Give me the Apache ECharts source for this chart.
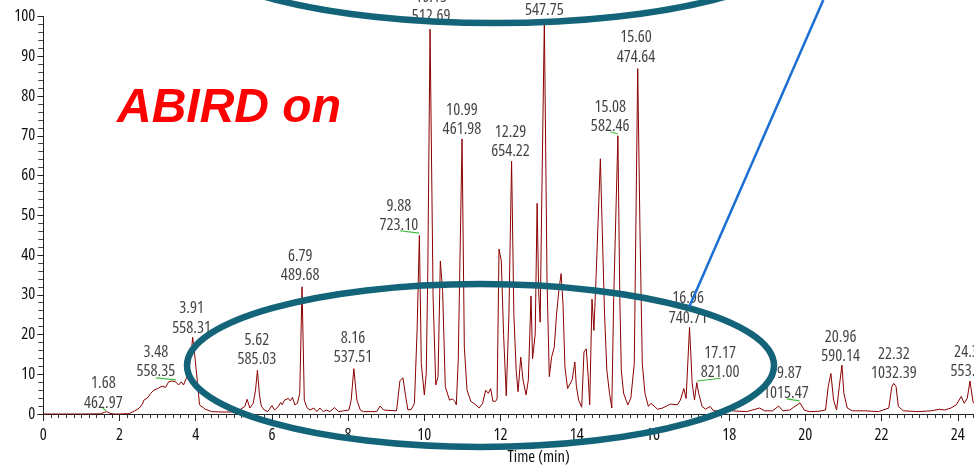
<!DOCTYPE html>
<html>
<head>
<meta charset="utf-8">
<script src="https://cdn.jsdelivr.net/npm/echarts@6/dist/echarts.min.js"></script>
<style>
html,body{margin:0;padding:0;background:#fff;overflow:hidden;width:974px;height:471px;}
#chart{width:1044px;height:471px;}
</style>
</head>
<body>
<div id="chart"></div>
<script>
// ---- Data ----
const rtMin = [0,0.5,1.0,1.5,1.6,1.66,1.75,1.85,2.0,2.26,2.4,2.52,2.6,2.64,2.73,2.82,2.9,3.0,3.04,3.12,3.21,3.29,3.38,3.47,3.55,3.62,3.68,3.75,3.81,3.88,3.92,3.97,4.04,4.1,4.25,4.42,4.7,4.94,5.1,5.29,5.35,5.42,5.51,5.57,5.62,5.67,5.72,5.8,5.89,6.0,6.07,6.16,6.23,6.27,6.33,6.38,6.43,6.48,6.54,6.6,6.67,6.73,6.79,6.85,6.92,7.0,7.1,7.18,7.26,7.35,7.43,7.52,7.64,7.75,7.88,8.02,8.08,8.15,8.23,8.32,8.4,8.75,8.84,8.93,9.27,9.36,9.44,9.51,9.57,9.66,9.74,9.81,9.87,9.92,10.0,10.05,10.09,10.15,10.23,10.3,10.36,10.42,10.48,10.55,10.66,10.74,10.8,10.84,10.89,10.99,11.05,11.12,11.22,11.35,11.44,11.53,11.61,11.68,11.74,11.8,11.87,11.91,11.96,12.02,12.08,12.15,12.22,12.29,12.35,12.41,12.46,12.53,12.59,12.67,12.73,12.8,12.84,12.91,12.96,13.0,13.04,13.08,13.15,13.22,13.28,13.34,13.41,13.47,13.53,13.59,13.64,13.69,13.76,13.81,13.88,13.95,13.99,14.05,14.13,14.19,14.25,14.3,14.34,14.4,14.45,14.51,14.62,14.67,14.73,14.79,14.86,14.92,14.97,15.08,15.13,15.17,15.23,15.34,15.42,15.51,15.6,15.66,15.72,15.79,15.88,15.95,15.99,16.12,16.25,16.34,16.46,16.64,16.72,16.81,16.87,16.96,17.03,17.09,17.15,17.2,17.29,17.38,17.5,17.59,17.76,17.98,18.07,18.46,18.8,18.93,19.14,19.3,19.41,19.59,19.86,19.97,20.1,20.36,20.53,20.6,20.67,20.74,20.82,20.89,20.96,21.01,21.1,21.23,21.57,21.92,22.19,22.27,22.32,22.38,22.44,22.57,22.96,23.3,23.52,23.65,23.82,23.96,24.09,24.17,24.25,24.32,24.4,24.6];
const intensity = [0,0,0,0.05,0.4,0.6,0.2,0,0,0.1,0.8,1.5,2.5,3.5,4.0,5.2,6.0,6.4,6.0,7.0,6.7,8.1,8.3,8.1,7.3,8.1,7.3,8.9,10.2,15.2,19.3,15.2,8.5,2.3,1.2,0.6,0.5,0.5,0.7,1.9,3.7,1.5,2.7,6,11.0,5,2.0,1.0,0.6,2.1,1.0,1.8,2.9,2.3,3.5,3.1,3.9,3.3,4.2,2.3,2.7,5.2,32.0,3.5,1.6,1.0,1.5,0.6,1.5,0.6,1.0,0.6,1.6,0.6,0.8,1.0,3.5,11.4,3.5,1.0,0.6,0.6,2.0,1.0,0.8,8.4,9.1,4.4,1.0,1.2,2.7,21,44.9,12.7,4.8,10.2,35,96.8,29.3,7.3,9.4,38.5,31,6.9,3.5,3.8,3.2,2.3,13.6,69.2,16.8,6.0,3.2,2.3,1.5,2.7,6.0,5.2,6.4,3.2,3.2,3.8,41.5,38.5,20,4.6,25,63.6,25,11,5.6,14.3,8.6,4.8,8.6,29.7,13.9,20.1,53,31,23.1,52.6,99,33.5,9.4,14.3,16.8,25.1,31,35.3,27.6,11.8,6.4,6.0,8.6,13.1,7.0,3.5,1.7,15.6,16.4,9.4,2.3,28.9,21.0,35.1,64.2,46,25.1,11,5.2,1.5,29.3,70.0,29.3,11,5.2,2.3,4.0,12.7,86.9,46,12.7,5.2,1.9,2.7,2.3,1.2,1.5,1.9,2.5,2.3,3.5,6.4,3.9,21.8,7.7,3.5,7.9,5.2,1.9,1.2,1.9,0.8,0.8,1.9,0.8,0.6,1.5,0.8,0.8,2.0,0.8,1.0,2.8,1.0,0.6,0.7,1.0,6.9,10.2,3.5,1.0,6.9,12.3,5.2,1.5,0.8,0.8,0.6,1.5,6.9,7.7,6.9,1.9,0.8,0.6,0.8,1.2,1.0,1.5,2.3,4.4,2.7,4,8.3,3,1];

// Peak annotations: retention time text, m/z text, label anchor (min, %)
const peakRtText = ['1.68','3.48','3.91','5.62','6.79','8.16','9.88','10.15','13.15','10.99','12.29','15.08','15.60','16.96','17.17','19.87','20.96','22.32','24.32'];
const peakMzText = ['462.97','558.35','558.31','585.03','489.68','537.51','723.10','512.69','547.75','461.98','654.22','582.46','474.64','740.71','821.00','1015.47','590.14','1032.39','553.27'];
const labelAnchorRt = [1.578,2.956,3.891,5.607,6.743,8.128,9.332,10.18,13.15,10.988,12.262,14.879,15.555,16.922,17.764,19.488,20.925,22.321,24.32];
const labelAnchorVal = [0.27,8.25,19.2,11.25,32.4,11.7,44.9,97.5,99.0,69.1,63.6,69.85,87.3,21.7,8.0,2.77,12.0,7.76,8.25];

// Green leader segments from label to peak
const leaderFromRt = [1.56,2.956,9.358,14.887,17.156,19.514];
const leaderFromVal = [1.45,9.1,46.1,71.0,8.3,3.79];
const leaderToRt = [1.645,3.483,9.862,15.077,17.78,19.844];
const leaderToVal = [0.87,8.6,45.5,70.45,9.0,3.29];

const xTicks = {min:0, max:26, interval:2};
const yTicks = {min:0, max:100, interval:10};

const FONT = '"Open Sans","Roboto Condensed",sans-serif';
const TXT = {fontFamily:FONT, fontWeight:'500 condensed', fontSize:16.5, color:'#111'};

const chart = echarts.init(document.getElementById('chart'), null, {renderer:'canvas'});
const trace = rtMin.map((t,i)=>[t,intensity[i]]);
const anchors = labelAnchorRt.map((t,i)=>[t,labelAnchorVal[i]]);
const leaders = leaderFromRt.map((t,i)=>[{coord:[t,leaderFromVal[i]]},{coord:[leaderToRt[i],leaderToVal[i]]}]);

chart.setOption({
  animation:false,
  backgroundColor:'#fff',
  grid:{left:43.3, top:16.5, bottom:53.5, right:0},
  xAxis:{
    type:'value', min:xTicks.min, max:xTicks.max, interval:xTicks.interval,
    name:'Time (min)', nameLocation:'middle', nameGap:35,
    nameTextStyle:Object.assign({}, TXT),
    axisLine:{show:true, onZero:false, lineStyle:{color:'#222', width:1}},
    axisTick:{show:true, length:7, lineStyle:{color:'#222'}},
    minorTick:{show:true, splitNumber:10, length:4, lineStyle:{color:'#333'}},
    axisLabel:Object.assign({margin:13}, TXT),
    splitLine:{show:false}
  },
  yAxis:{
    type:'value', min:yTicks.min, max:yTicks.max, interval:yTicks.interval,
    axisLine:{show:true, lineStyle:{color:'#222', width:1}},
    axisTick:{show:true, length:6, lineStyle:{color:'#222'}},
    minorTick:{show:true, splitNumber:5, length:5, lineStyle:{color:'#444'}},
    axisLabel:Object.assign({margin:8}, TXT),
    splitLine:{show:false}
  },
  series:[
    {
      type:'line', data:trace, showSymbol:false, symbol:'none',
      lineStyle:{color:'#8b0000', width:1}, z:3,
      markLine:{
        silent:true, symbol:['none','none'], animation:false,
        lineStyle:{color:'#3dbb3d', width:1.2, type:'solid'},
        label:{show:false}, data:leaders
      }
    },
    {
      type:'scatter', data:anchors, symbolSize:0, z:4,
      label:Object.assign({
        show:true, position:'top', distance:0, lineHeight:19.5, align:'center',
        formatter:(p)=>peakRtText[p.dataIndex]+'\n'+peakMzText[p.dataIndex]
      }, TXT)
    }
  ],
  graphic:[
    {type:'text', x:117, y:109, z:10,
     style:{text:'ABIRD on', fill:'#ff0000', font:'italic bold 48px "Liberation Sans",Arial,sans-serif', verticalAlign:'middle'}},
    {type:'ellipse', z:20, shape:{cx:495, cy:-57, rx:311, ry:80},
     style:{fill:null, stroke:'#136479', lineWidth:6.5}},
    {type:'ellipse', z:20, shape:{cx:480.5, cy:365.5, rx:293.5, ry:81.5},
     style:{fill:null, stroke:'#136479', lineWidth:6.5}},
    {type:'line', z:21, shape:{x1:689.3, y1:306.7, x2:823.3, y2:0},
     style:{stroke:'#1b6fd2', lineWidth:2.5}}
  ]
});
</script>
</body>
</html>
